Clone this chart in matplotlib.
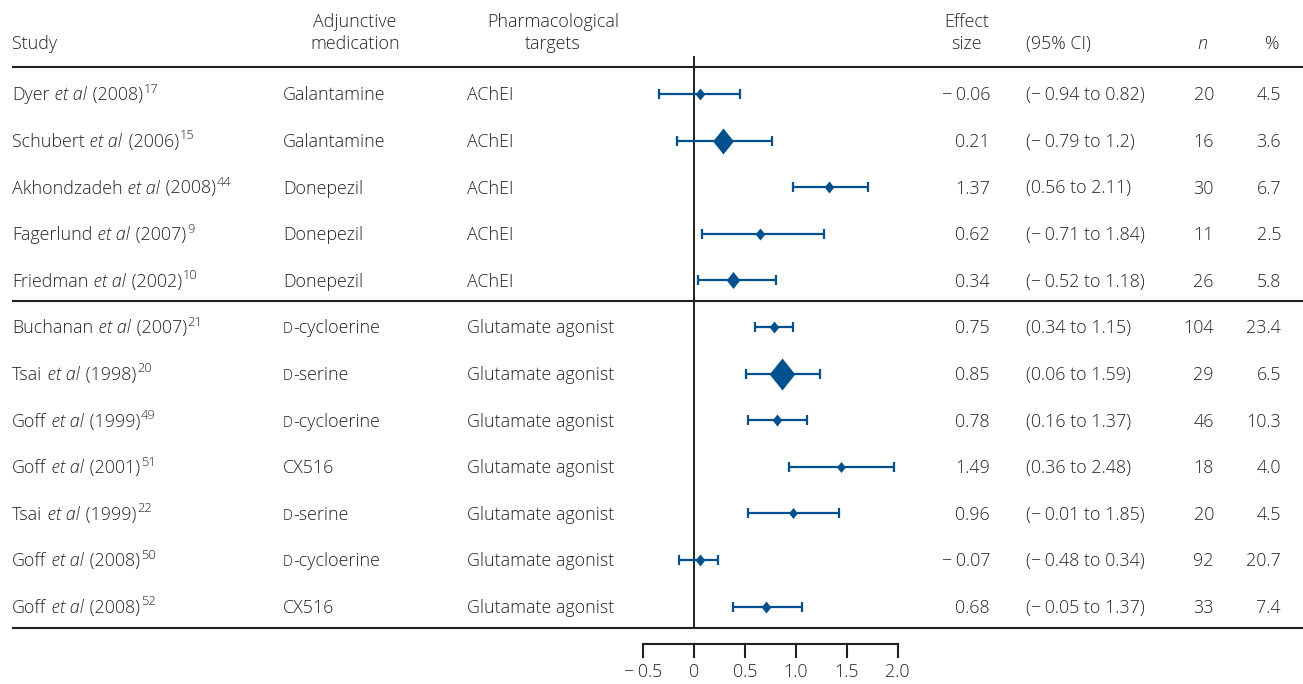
import matplotlib
matplotlib.use("Agg")
import matplotlib.pyplot as plt
from matplotlib.path import Path

# ---------------- data ----------------
authors = ["Dyer", "Schubert", "Akhondzadeh", "Fagerlund", "Friedman", "Buchanan",
           "Tsai", "Goff", "Goff", "Tsai", "Goff", "Goff"]
years = ["2008", "2006", "2008", "2007", "2002", "2007", "1998", "1999", "2001", "1999", "2008", "2008"]
refs = ["17", "15", "44", "9", "10", "21", "20", "49", "51", "22", "50", "52"]
medications = ["Galantamine", "Galantamine", "Donepezil", "Donepezil", "Donepezil",
               "D-cycloerine", "D-serine", "D-cycloerine", "CX516", "D-serine", "D-cycloerine", "CX516"]
targets = ["AChEI"] * 5 + ["Glutamate agonist"] * 7
M = "\u2212\u2009"
effect_text = [M + "0.06", "0.21", "1.37", "0.62", "0.34", "0.75", "0.85", "0.78", "1.49",
               "0.96", M + "0.07", "0.68"]
ci_text = ["(" + M + "0.94 to 0.82)", "(" + M + "0.79 to 1.2)", "(0.56 to 2.11)",
           "(" + M + "0.71 to 1.84)", "(" + M + "0.52 to 1.18)", "(0.34 to 1.15)",
           "(0.06 to 1.59)", "(0.16 to 1.37)", "(0.36 to 2.48)", "(" + M + "0.01 to 1.85)",
           "(" + M + "0.48 to 0.34)", "(" + M + "0.05 to 1.37)"]
n_values = [20, 16, 30, 11, 26, 104, 29, 46, 18, 20, 92, 33]
pct_text = ["4.5", "3.6", "6.7", "2.5", "5.8", "23.4", "6.5", "10.3", "4.0", "4.5", "20.7", "7.4"]

# plotted marks as drawn in the figure
point = [0.06, 0.29, 1.33, 0.65, 0.39, 0.79, 0.87, 0.82, 1.44, 0.97, 0.06, 0.71]
ci_low = [-0.34, -0.16, 0.97, 0.08, 0.04, 0.60, 0.51, 0.53, 0.93, 0.53, -0.14, 0.39]
ci_high = [0.45, 0.77, 1.71, 1.28, 0.81, 0.97, 1.24, 1.11, 1.96, 1.42, 0.24, 1.06]
weight_size = [12, 26, 12, 12, 17, 12, 32, 12, 11, 11, 12, 12]

x_ticks = [-0.5, 0.0, 0.5, 1.0, 1.5, 2.0]
x_tick_labels = [M + "0.5", "0", "0.5", "1.0", "1.5", "2.0"]

# ---------------- layout ----------------
W, H = 1303, 684
X0, S = 693.7, 102.0   # pixel of zero, pixels per unit
Y0, DY = 94.0, 46.6    # pixel of first row, row spacing

def px2x(p):
    return (p - X0) / S

def py2y(p):
    return (p - Y0) / DY

FONT = "Open Sans"
FS = 12.9
TXT = "#262223"
BLUE = "#02518e"
LINE = "#231f20"

plt.rcParams["font.family"] = [FONT, "DejaVu Sans"]

fig = plt.figure(figsize=(W / 100, H / 100), dpi=100)
ax = fig.add_axes([0, 0, 1, 1])
ax.set_xlim(px2x(0), px2x(W))
ax.set_ylim(py2y(H), py2y(0))
ax.axis("off")

kw = dict(fontsize=FS, color=TXT, fontweight="light")

def chain(prev, s, y, gap=0.0, **extra):
    d = dict(kw)
    d.update(extra)
    return ax.annotate(s, xy=(1, y), xycoords=(prev, "data"), xytext=(gap, 0),
                       textcoords="offset points", va="baseline", ha="left", **d)

BASE = 6.3 / DY  # baseline offset below row centre

# header
hy1, hy2 = py2y(22), py2y(44)
ax.text(px2x(12), hy2, "Study", ha="left", va="center", **kw)
ax.text(px2x(355), hy1, "Adjunctive", ha="center", va="center", **kw)
ax.text(px2x(355), hy2, "medication", ha="center", va="center", **kw)
ax.text(px2x(553), hy1, "Pharmacological", ha="center", va="center", **kw)
ax.text(px2x(553), hy2, "targets", ha="center", va="center", **kw)
ax.text(px2x(967), hy1, "Effect", ha="center", va="center", **kw)
ax.text(px2x(966), hy2, "size", ha="center", va="center", **kw)
ax.text(px2x(1026), hy2, "(95% CI)", ha="left", va="center", **kw)
ax.text(px2x(1202), hy2, "n", ha="center", va="center", style="italic", **kw)
ax.text(px2x(1280), hy2, "%", ha="right", va="center", **kw)

# horizontal rules
for yp in (67, 301, 628):
    ax.plot([px2x(12), px2x(W)], [py2y(yp)] * 2, color=LINE, lw=1.5, solid_capstyle="butt")
# zero line
ax.plot([0, 0], [py2y(57), py2y(628)], color=LINE, lw=1.4, zorder=1)

# diamond marker path (taller than wide)
diamond = Path([(0, 1), (0.8, 0), (0, -1), (-0.8, 0), (0, 1)],
               [Path.MOVETO, Path.LINETO, Path.LINETO, Path.LINETO, Path.CLOSEPOLY])

for i in range(len(authors)):
    y = i
    yb = y + BASE
    # study with italics and superscript
    t = ax.text(px2x(12), yb, authors[i], ha="left", va="baseline", **kw)
    t = chain(t, " et al", yb, gap=0.3, style="italic")
    t = chain(t, " (" + years[i] + ")", yb, gap=1.2)
    chain(t, refs[i], yb - 7.5 / DY, gap=0.5, fontsize=FS * 0.72)
    # medication (small-cap D)
    med = medications[i]
    if med.startswith("D-"):
        t = ax.text(px2x(283), yb, "D", ha="left", va="baseline",
                    **dict(kw, fontsize=FS * 0.78))
        chain(t, med[1:], yb)
    else:
        ax.text(px2x(283), yb, med, ha="left", va="baseline", **kw)
    ax.text(px2x(467), yb, targets[i], ha="left", va="baseline", **kw)
    ax.text(px2x(990), yb, effect_text[i], ha="right", va="baseline", **kw)
    ax.text(px2x(1026), yb, ci_text[i], ha="left", va="baseline", **kw)
    ax.text(px2x(1214), yb, str(n_values[i]), ha="right", va="baseline", **kw)
    ax.text(px2x(1281), yb, pct_text[i], ha="right", va="baseline", **kw)

    # CI + point
    ax.errorbar([point[i]], [y], xerr=[[point[i] - ci_low[i]], [ci_high[i] - point[i]]],
                fmt="none", ecolor=BLUE, elinewidth=1.6, capsize=3.3, capthick=1.6, zorder=3)
    ax.plot([point[i]], [y], linestyle="none", marker=diamond,
            markersize=weight_size[i] * 0.72, color=BLUE, markeredgewidth=0, zorder=4)

# bottom axis
ay = py2y(644)
ax.plot([x_ticks[0], x_ticks[-1]], [ay, ay], color=LINE, lw=1.5, solid_capstyle="projecting")
for xv, lab in zip(x_ticks, x_tick_labels):
    ax.plot([xv, xv], [ay, py2y(657)], color=LINE, lw=1.5)
    ax.text(xv, py2y(672), lab, ha="center", va="center", **kw)

fig.savefig("out.png", dpi=100)
